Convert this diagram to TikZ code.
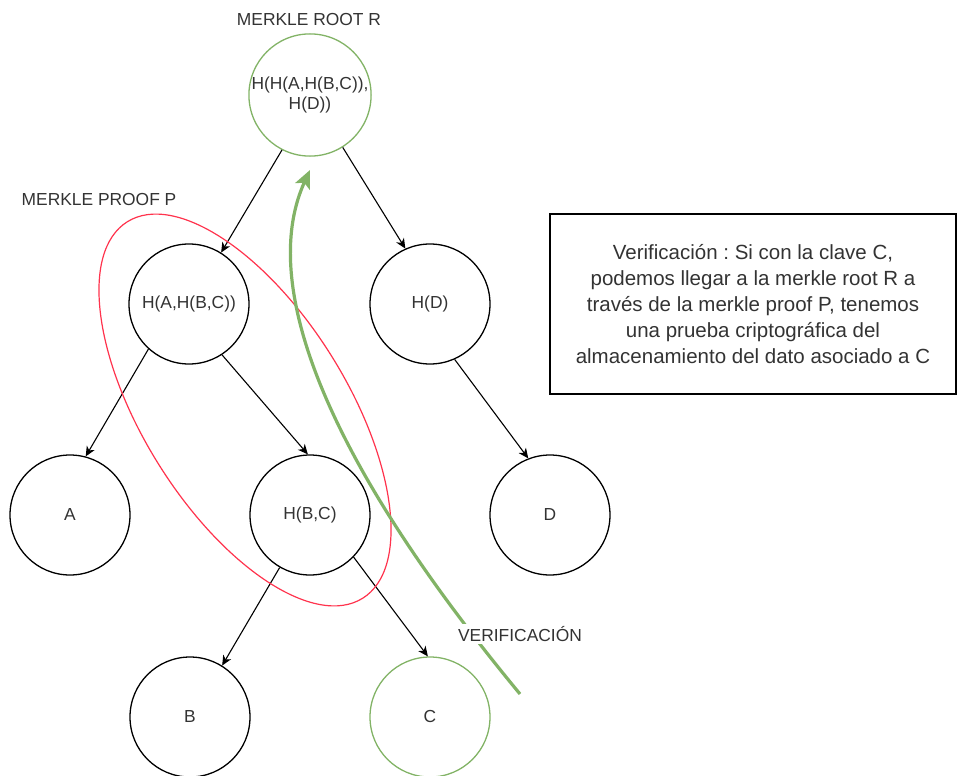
\documentclass[tikz,border=0pt]{standalone}
\usepackage{fontspec}
\setmainfont{Liberation Sans}
\usetikzlibrary{positioning}
\usetikzlibrary{arrows.meta}
\definecolor{custom-green}{RGB}{130, 179, 102}
\definecolor{custom-red}{RGB}{255, 51, 77}
\definecolor{custom-text}{RGB}{51, 51, 51}
\frenchspacing

\begin{document}
\begin{tikzpicture}[x=1pt, y=-1pt,
        hashnode/.style={circle, draw=black, line width=1.3pt, minimum size=120pt, inner sep=0pt,
            text=custom-text, align=center, font=\fontsize{17.4}{20}\selectfont},
        treelabel/.style={text=custom-text, font=\fontsize{17.4}{20}\selectfont},
        treeedge/.style={-{Stealth[length=10pt, width=9pt, inset=3pt]}, line width=1.1pt}]
                \useasboundingbox (0, 0) rectangle (958, 776);
                \node[hashnode, draw=custom-green] (root) at (310, 95) {H(H(A,H(B,C)),\\H(D))};
                \node[hashnode] (hab) at (189, 304) {H(A,H(B,C))};
                \node[hashnode] (hd) at (430, 304) {H(D)};
                \node[hashnode] (a) at (70, 515) {A};
                \node[hashnode] (hbc) at (310, 515) {H(B,C)};
                \node[hashnode] (d) at (550, 515) {D};
                \node[hashnode] (b) at (190, 717) {B};
                \node[hashnode, draw=custom-green] (c) at (430, 717) {C};
                \draw[treeedge] (root.243) -- (hab.58);
                \draw[treeedge] (root.302) -- (hd.114);
                \draw[treeedge] (hab.228) -- (a.75);
                \draw[treeedge] (hab.303) -- (hbc.92);
                \draw[treeedge] (hd.294) -- (d.111);
                \draw[treeedge] (hbc.240) -- (b.58);
                \draw[treeedge] (hbc.316) -- (c.92);
                \node[treelabel] (rootlabel) at (309, 20) {MERKLE ROOT R};
                \node[treelabel] (prooflabel) at (99, 200) {MERKLE PROOF P};
                \draw[custom-red, line width=1.2pt, rotate around={-58:(245, 410)}] (245, 410) ellipse (222pt and 102pt);
                \coordinate (vstart) at (520, 694);
                \coordinate (vend) at (310, 170);
                \draw[custom-green, line width=3.2pt, -{Stealth[length=18pt, width=16pt, inset=4pt]}] (vstart) .. controls (310, 440) and (262, 275) .. (vend);
                \node[treelabel, fill=white, inner sep=2pt] (verlabel) at (520, 634) {VERIFICACIÓN};
                \node[draw=black, line width=1.2pt, minimum width=406pt, minimum height=180pt, align=center,
                    text=custom-text, font=\fontsize{20.5}{25.8}\selectfont] (note) at (753, 304)
                    {Verificación : Si con la clave C,\\podemos llegar a la merkle root R a\\través de la merkle proof P, tenemos\\una prueba criptográfica del\\almacenamiento del dato asociado a C};
            \end{tikzpicture}
\end{document}
